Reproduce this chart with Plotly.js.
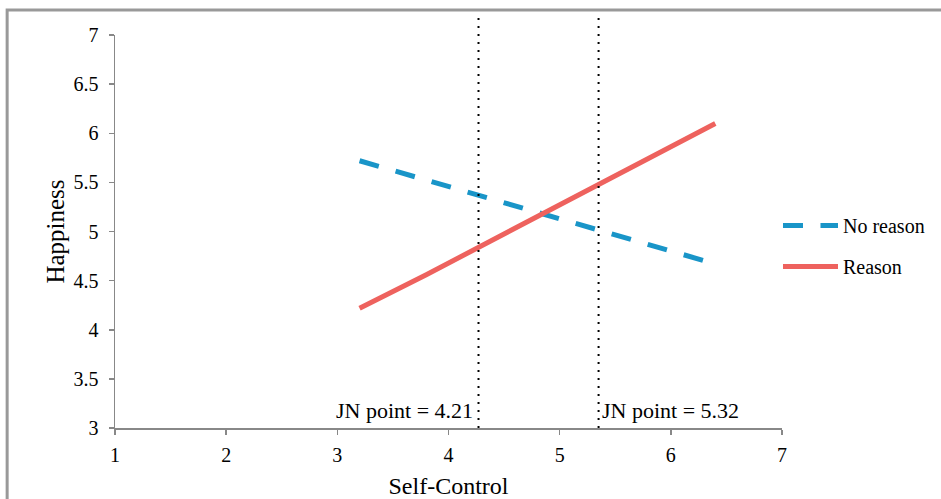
<!DOCTYPE html>
<html><head><meta charset="utf-8">
<script src="https://cdn.plot.ly/plotly-3.0.1.min.js"></script>
<style>body{margin:0;padding:0;background:#fff}#chart{width:941px;height:499px}</style>
</head><body><div id="chart"></div>
<script>
const noReasonX = [3.2, 6.4];
const noReasonY = [5.72, 4.67];
const reasonX = [3.2, 3.8, 6.4];
const reasonY = [4.22, 4.56, 6.10];
const jnLineX = [4.27, 5.35];
const jnLabels = ['JN point = 4.21', 'JN point = 5.32'];
const xTicks = [1, 2, 3, 4, 5, 6, 7];
const yTicks = [3, 3.5, 4, 4.5, 5, 5.5, 6, 6.5, 7];

const font = 'Liberation Serif, Times New Roman, serif';
const traces = [
  {x: noReasonX, y: noReasonY, mode: 'lines', name: 'No reason', legendgroup: 'a',
   line: {color: '#1995c8', width: 5, dash: '20px,17.5px'}},
  {x: reasonX, y: reasonY, mode: 'lines', name: 'Reason', legendgroup: 'b',
   line: {color: '#ee625e', width: 5}}
];
const shapes = jnLineX.map(v => ({type: 'line', xref: 'x', yref: 'paper', x0: v, x1: v, y0: 0, y1: 1.043,
  line: {color: '#000', width: 2, dash: '2px,6px'}}));
shapes.push({type: 'rect', xref: 'paper', yref: 'paper', x0: -0.1617, x1: 1.6, y0: -0.6, y1: 1.0636,
  line: {color: '#999', width: 3}});
const annotations = jnLineX.map((v, i) => ({xref: 'x', yref: 'y', x: v, y: 3.18, text: jnLabels[i],
  showarrow: false, xanchor: i === 0 ? 'right' : 'left', xshift: i === 0 ? -4 : 1,
  font: {family: font, size: 22, color: '#000'}}));
const axisCommon = {showgrid: false, zeroline: false, showline: true, linecolor: '#888', linewidth: 1.5,
  ticks: 'outside', ticklen: 5, tickcolor: '#888', tickwidth: 1.5,
  tickfont: {family: font, size: 20, color: '#000'}};
const layout = {
  width: 941, height: 499,
  margin: {l: 115, r: 158, t: 35, b: 71},
  paper_bgcolor: '#fff', plot_bgcolor: '#fff',
  xaxis: Object.assign({}, axisCommon, {range: [1, 7], tickvals: xTicks, ticktext: xTicks.map(String),
    ticklabelstandoff: 3,
    title: {text: 'Self-Control', font: {family: font, size: 24, color: '#000'}, standoff: 12}}),
  yaxis: Object.assign({}, axisCommon, {range: [3, 7], tickvals: yTicks, ticktext: yTicks.map(String),
    ticklabelstandoff: 6,
    title: {text: 'Happiness', font: {family: font, size: 25, color: '#000'}, standoff: 2}}),
  showlegend: true,
  legend: {x: 0.9925, xanchor: 'left', y: 0.565, yanchor: 'top', itemwidth: 55, tracegroupgap: 12,
    font: {family: font, size: 20, color: '#000'}, bgcolor: 'rgba(0,0,0,0)'},
  shapes: shapes,
  annotations: annotations
};
Plotly.newPlot('chart', traces, layout, {displayModeBar: false, staticPlot: true});
</script></body></html>
